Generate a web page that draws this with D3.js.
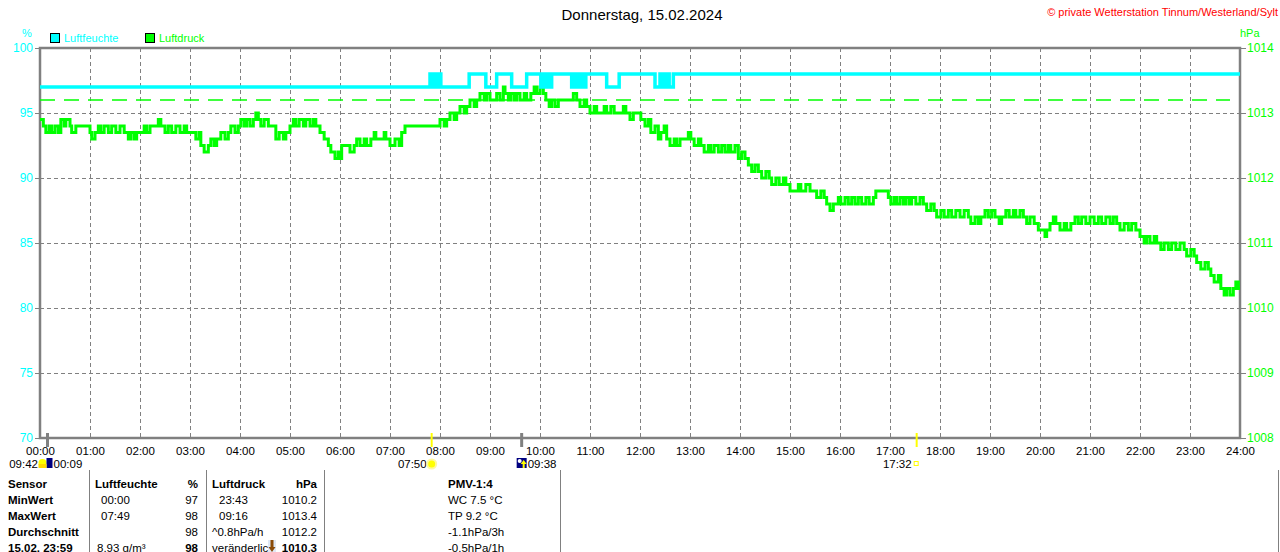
<!DOCTYPE html>
<html>
<head>
<meta charset="utf-8">
<script src="https://cdn.jsdelivr.net/npm/d3@7"></script>
<style>
  body { margin: 0; background: #fff; }
  svg { display: block; font-family: "Liberation Sans", Arial, sans-serif; }
</style>
</head>
<body>
<script>
// Tagesgrafik Luftfeuchte / Luftdruck

var titel = "Donnerstag, 15.02.2024",
    copyright = "\u00A9 private Wetterstation Tinnum/Westerland/Sylt";

var feuchteTicks = [70, 75, 80, 85, 90, 95, 100],
    druckTicks = [1008, 1009, 1010, 1011, 1012, 1013, 1014],
    stundenTicks = d3.range(0, 25);

// [Minute des Tages, %]
var feuchte = [
  [0, 97], [468, 98], [470, 97], [473, 98], [475, 97], [478, 98], [481, 97],
  [515, 98], [535, 97], [548, 98], [566, 97], [584, 98],
  [601, 97], [604, 98], [606, 97], [610, 98], [612, 97], [614, 98],
  [638, 97], [642, 98], [644, 97], [648, 98], [652, 97], [655, 98],
  [680, 97], [695, 98], [738, 97], [744, 98], [748, 97], [751, 98],
  [755, 97], [760, 98], [1440, 98]
];

// [Minute des Tages, hPa]
var druck = [
  [0,1012.9],[4,1012.8],[7,1012.7],[11,1012.8],[14,1012.7],[18,1012.8],[22,1012.7],[25,1012.9],
  [29,1012.8],[31,1012.9],[36,1012.8],[38,1012.7],[43,1012.8],[60,1012.7],[62,1012.6],[66,1012.7],
  [70,1012.8],[73,1012.7],[77,1012.8],[82,1012.7],[86,1012.8],[91,1012.7],[96,1012.8],[101,1012.7],
  [106,1012.6],[109,1012.7],[113,1012.6],[116,1012.7],[125,1012.8],[128,1012.7],[132,1012.8],[142,1012.9],
  [145,1012.8],[150,1012.7],[154,1012.8],[158,1012.7],[163,1012.8],[168,1012.7],[173,1012.8],[176,1012.7],
  [187,1012.6],[191,1012.7],[193,1012.5],[197,1012.4],[202,1012.5],[205,1012.6],[209,1012.5],[212,1012.6],
  [217,1012.7],[222,1012.6],[226,1012.7],[229,1012.8],[234,1012.7],[238,1012.8],[241,1012.9],[245,1012.8],
  [248,1012.9],[252,1012.8],[256,1012.9],[259,1013.0],[262,1012.9],[265,1012.8],[269,1012.9],[274,1012.8],
  [283,1012.6],[287,1012.7],[292,1012.6],[295,1012.7],[300,1012.8],[304,1012.9],[307,1012.8],[311,1012.9],
  [316,1012.8],[319,1012.9],[324,1012.8],[328,1012.9],[331,1012.8],[336,1012.7],[341,1012.6],[346,1012.5],
  [349,1012.4],[354,1012.3],[358,1012.4],[360,1012.3],[362,1012.5],[372,1012.4],[377,1012.5],[380,1012.6],
  [384,1012.5],[389,1012.6],[392,1012.5],[397,1012.6],[401,1012.7],[403,1012.6],[413,1012.7],[415,1012.6],
  [420,1012.5],[426,1012.6],[431,1012.5],[434,1012.7],[438,1012.8],[480,1012.9],[485,1012.8],[488,1012.9],
  [492,1013.0],[497,1012.9],[500,1013.0],[504,1013.1],[509,1013.0],[512,1013.1],[516,1013.2],[521,1013.1],
  [524,1013.2],[528,1013.3],[533,1013.2],[536,1013.3],[540,1013.2],[548,1013.3],[552,1013.2],[556,1013.4],
  [558,1013.3],[562,1013.2],[565,1013.3],[569,1013.2],[572,1013.3],[576,1013.2],[581,1013.3],[584,1013.2],
  [589,1013.3],[593,1013.4],[596,1013.3],[600,1013.4],[604,1013.3],[607,1013.2],[611,1013.1],[614,1013.2],
  [618,1013.1],[622,1013.2],[640,1013.3],[644,1013.2],[648,1013.1],[653,1013.2],[656,1013.1],[660,1013.0],
  [665,1013.1],[668,1013.0],[677,1013.1],[680,1013.0],[685,1013.1],[689,1013.0],[700,1013.1],[703,1013.0],
  [708,1012.9],[712,1013.0],[721,1012.9],[726,1012.8],[730,1012.9],[733,1012.7],[738,1012.8],[742,1012.6],
  [745,1012.7],[749,1012.8],[752,1012.6],[756,1012.5],[761,1012.6],[764,1012.5],[768,1012.6],[778,1012.7],
  [781,1012.6],[785,1012.5],[790,1012.6],[793,1012.5],[797,1012.4],[802,1012.5],[805,1012.4],[809,1012.5],
  [814,1012.4],[818,1012.5],[822,1012.4],[826,1012.5],[829,1012.4],[834,1012.5],[838,1012.3],[842,1012.4],
  [846,1012.3],[850,1012.2],[854,1012.1],[858,1012.2],[862,1012.1],[866,1012.0],[871,1012.1],[875,1012.0],
  [878,1011.9],[883,1012.0],[887,1011.9],[892,1012.0],[895,1011.9],[900,1011.8],[910,1011.9],[913,1011.8],
  [919,1011.9],[924,1011.8],[932,1011.7],[937,1011.8],[941,1011.7],[944,1011.6],[948,1011.5],[952,1011.6],
  [958,1011.7],[961,1011.6],[966,1011.7],[970,1011.6],[974,1011.7],[978,1011.6],[982,1011.7],[986,1011.6],
  [991,1011.7],[995,1011.6],[1000,1011.7],[1003,1011.8],[1018,1011.7],[1021,1011.6],[1025,1011.7],[1028,1011.6],
  [1032,1011.7],[1036,1011.6],[1039,1011.7],[1043,1011.6],[1046,1011.7],[1051,1011.6],[1056,1011.7],[1060,1011.6],
  [1064,1011.5],[1069,1011.6],[1073,1011.5],[1076,1011.4],[1081,1011.5],[1085,1011.4],[1090,1011.5],[1094,1011.4],
  [1099,1011.5],[1104,1011.4],[1109,1011.5],[1114,1011.4],[1117,1011.3],[1122,1011.4],[1126,1011.3],[1129,1011.4],
  [1134,1011.5],[1138,1011.4],[1142,1011.5],[1146,1011.4],[1151,1011.3],[1154,1011.4],[1159,1011.5],[1163,1011.4],
  [1168,1011.5],[1171,1011.4],[1176,1011.5],[1180,1011.4],[1184,1011.3],[1188,1011.4],[1193,1011.3],[1198,1011.2],
  [1206,1011.1],[1208,1011.2],[1212,1011.3],[1216,1011.4],[1219,1011.3],[1224,1011.2],[1229,1011.3],[1232,1011.2],
  [1237,1011.3],[1242,1011.4],[1246,1011.3],[1250,1011.4],[1255,1011.3],[1260,1011.4],[1265,1011.3],[1270,1011.4],
  [1274,1011.3],[1279,1011.4],[1284,1011.3],[1288,1011.4],[1292,1011.3],[1296,1011.2],[1301,1011.3],[1306,1011.2],
  [1310,1011.3],[1315,1011.2],[1320,1011.1],[1325,1011.0],[1328,1011.1],[1332,1011.0],[1337,1011.1],[1340,1011.0],
  [1345,1010.9],[1349,1011.0],[1354,1010.9],[1358,1011.0],[1363,1010.9],[1368,1011.0],[1373,1010.9],[1376,1010.8],
  [1381,1010.9],[1385,1010.8],[1388,1010.7],[1393,1010.6],[1398,1010.7],[1402,1010.6],[1405,1010.5],[1409,1010.4],
  [1414,1010.5],[1417,1010.3],[1421,1010.2],[1424,1010.3],[1428,1010.2],[1432,1010.3],[1435,1010.4],[1438,1010.3],
  [1440,1010.3]
];

// gestrichelte Linie (hPa), von 00:00 bis 23:48
var druckLinie = { wert: 1013.2, von: 0, bis: 1428 };

// Sonne / Mond
var ereignisse = [
  { zeit: 9,    text: "00:09", typ: "mond",  seite: "rechts" },
  { zeit: 470,  text: "07:50", typ: "sonne", seite: "links" },
  { zeit: 578,  text: "09:38", typ: "mond",  seite: "rechts" },
  { zeit: 1052, text: "17:32", typ: "sonne", seite: "links" }
];
var mondZusatz = "09:42";

// Tabelle unten
var zeilen = ["Sensor", "MinWert", "MaxWert", "Durchschnitt", "15.02.  23:59"],
    feuchteZeit = ["Luftfeuchte", "00:00", "07:49", "", "8.93 g/m\u00B3"],
    feuchteWert = ["%", "97", "98", "98", "98"],
    druckZeit = ["Luftdruck", "23:43", "09:16", "^0.8hPa/h", "ver\u00E4nderlich"],
    druckWert = ["hPa", "1010.2", "1013.4", "1012.2", "1010.3"],
    pmv = ["PMV-1:4", "WC 7.5 \u00B0C", "TP 9.2 \u00B0C", "-1.1hPa/3h", "-0.5hPa/1h"];

var W = 1280, H = 552,
    pL = 40, pR = 1240, pT = 48, pB = 438;

var cyan = "#00ffff", green = "#00ff00", grau = "#808080";

var svg = d3.select("body").append("svg")
  .attr("width", W)
  .attr("height", H);

var x = d3.scaleLinear().domain([0, 1440]).range([pL, pR]),
    yF = d3.scaleLinear().domain([70, 100]).range([pB, pT]),
    yD = d3.scaleLinear().domain([1008, 1014]).range([pB, pT]);

// Titel
svg.append("text").attr("x", 642).attr("y", 20).attr("text-anchor", "middle")
  .style("font-size", "15px").attr("fill", "#000").text(titel);
svg.append("text").attr("x", 1278).attr("y", 16).attr("text-anchor", "end")
  .style("font-size", "11px").attr("fill", "#ff0000").text(copyright);

// Einheiten
svg.append("text").attr("x", 27).attr("y", 37).attr("text-anchor", "middle")
  .style("font-size", "11px").attr("fill", cyan).text("%");
svg.append("text").attr("x", 1240).attr("y", 37)
  .style("font-size", "11px").attr("fill", green).text("hPa");

// Legende
var legende = [{ name: "Luftfeuchte", farbe: cyan, x: 50 }, { name: "Luftdruck", farbe: green, x: 145 }];
var lg = svg.selectAll("g.legende").data(legende).enter().append("g").attr("class", "legende");
lg.append("rect").attr("x", function(d){ return d.x + 0.5; }).attr("y", 33.5)
  .attr("width", 9).attr("height", 9).attr("fill", function(d){ return d.farbe; })
  .attr("stroke", "#000").attr("stroke-width", 1);
lg.append("text").attr("x", function(d){ return d.x + 14; }).attr("y", 42)
  .style("font-size", "11px").attr("fill", function(d){ return d.farbe; })
  .text(function(d){ return d.name; });

// Gitter
svg.append("g").selectAll("line").data(stundenTicks.slice(1, 24)).enter().append("line")
  .attr("x1", function(d){ return x(d * 60) + 0.5; }).attr("x2", function(d){ return x(d * 60) + 0.5; })
  .attr("y1", pT).attr("y2", pB)
  .attr("stroke", grau).attr("stroke-dasharray", "4,3");
svg.append("g").selectAll("line").data(feuchteTicks.slice(1, 6)).enter().append("line")
  .attr("x1", pL).attr("x2", pR)
  .attr("y1", function(d){ return yF(d) + 0.5; }).attr("y2", function(d){ return yF(d) + 0.5; })
  .attr("stroke", grau).attr("stroke-dasharray", "4,3");

// Achsen
var achseL = svg.append("g").attr("transform", "translate(" + pL + ",0)")
  .call(d3.axisLeft(yF).tickValues(feuchteTicks).tickSize(5).tickPadding(2));
var achseR = svg.append("g").attr("transform", "translate(" + pR + ",0)")
  .call(d3.axisRight(yD).tickValues(druckTicks).tickSize(6).tickPadding(1)
    .tickFormat(d3.format("d")));
[[achseL, cyan], [achseR, green]].forEach(function(a){
  a[0].select(".domain").remove();
  a[0].selectAll(".tick line").attr("stroke", grau);
  a[0].selectAll("text").attr("fill", a[1]).style("font-size", "12px")
    .style("font-family", "'Liberation Sans', Arial, sans-serif");
});
var achseX = svg.append("g").attr("transform", "translate(0," + pB + ")")
  .call(d3.axisBottom(x).tickValues(stundenTicks.map(function(h){ return h * 60; }))
    .tickSize(0).tickPadding(9)
    .tickFormat(function(m){ return d3.format("02")(m / 60) + ":00"; }));
achseX.select(".domain").remove();
achseX.selectAll("text").attr("fill", "#000").style("font-size", "11.5px")
  .style("font-family", "'Liberation Sans', Arial, sans-serif");

// Rahmen
svg.append("rect").attr("x", pL).attr("y", pT).attr("width", pR - pL).attr("height", pB - pT)
  .attr("fill", "none").attr("stroke", grau).attr("stroke-width", 2.5);

// gestrichelte Druck-Linie
svg.append("line")
  .attr("x1", x(druckLinie.von)).attr("x2", x(druckLinie.bis))
  .attr("y1", yD(druckLinie.wert)).attr("y2", yD(druckLinie.wert))
  .attr("stroke", green).attr("stroke-width", 1.5).attr("stroke-dasharray", "15,9");

// Kurven
var linieF = d3.line().x(function(d){ return x(d[0]); }).y(function(d){ return yF(d[1]); })
  .curve(d3.curveStepAfter);
var linieD = d3.line().x(function(d){ return x(d[0]); }).y(function(d){ return yD(d[1]); })
  .curve(d3.curveStepAfter);

svg.append("path").datum(druck).attr("d", linieD)
  .attr("fill", "none").attr("stroke", green).attr("stroke-width", 3);
svg.append("path").datum(feuchte).attr("d", linieF)
  .attr("fill", "none").attr("stroke", cyan).attr("stroke-width", 3.5);

// Sonne / Mond Markierungen
var ev = svg.append("g").selectAll("g").data(ereignisse).enter().append("g");
ev.append("line")
  .attr("x1", function(d){ return x(d.zeit); }).attr("x2", function(d){ return x(d.zeit); })
  .attr("y1", 433).attr("y2", 447)
  .attr("stroke", function(d){ return d.typ == "sonne" ? "#ffff00" : grau; })
  .attr("stroke-width", function(d){ return d.typ == "sonne" ? 2 : 3; });
ev.append("text")
  .attr("x", function(d){ return d.seite == "links" ? x(d.zeit) - 5 : x(d.zeit) + 6; })
  .attr("y", 468)
  .attr("text-anchor", function(d){ return d.seite == "links" ? "end" : "start"; })
  .style("font-size", "11.5px").attr("fill", "#000")
  .text(function(d){ return d.text; });

// Symbole
ereignisse.forEach(function(d, i){
  var cx = x(d.zeit), g = svg.append("g");
  if (i == 0) {
    g.append("circle").attr("cx", cx - 5).attr("cy", 463).attr("r", 4).attr("fill", "#ffff00");
    g.append("rect").attr("x", cx - 1).attr("y", 458).attr("width", 6).attr("height", 10).attr("fill", "#000080");
    g.append("rect").attr("x", cx - 9).attr("y", 464).attr("width", 8).attr("height", 4).attr("fill", "#ffd800");
  } else if (i == 1) {
    g.append("circle").attr("cx", cx).attr("cy", 464).attr("r", 5.5).attr("fill", "#fff8a0");
    g.append("circle").attr("cx", cx).attr("cy", 464).attr("r", 3.5).attr("fill", "#ffff00");
  } else if (i == 2) {
    g.append("rect").attr("x", cx - 5).attr("y", 458).attr("width", 10).attr("height", 10).attr("fill", "#000080");
    g.append("circle").attr("cx", cx - 2).attr("cy", 461).attr("r", 2).attr("fill", "#fff");
    g.append("path").attr("d", "M" + (cx + 2) + ",460 l-3,4 h2 v4 h2 v-4 h2 z").attr("fill", "#ffff00");
  } else {
    g.append("rect").attr("x", cx - 2.5).attr("y", 461.5).attr("width", 4).attr("height", 4)
      .attr("fill", "none").attr("stroke", "#ffff00");
  }
});
svg.append("text").attr("x", 38).attr("y", 468).attr("text-anchor", "end")
  .style("font-size", "11.5px").attr("fill", "#000").text(mondZusatz);

// Tabelle
[89, 206, 324, 560, 1278].forEach(function(sx){
  svg.append("line").attr("x1", sx + 0.5).attr("x2", sx + 0.5).attr("y1", 470).attr("y2", H)
    .attr("stroke", grau);
});
svg.append("clipPath").attr("id", "clipVer").append("rect")
  .attr("x", 206).attr("y", 470).attr("width", 62).attr("height", 90);

var zeileY = function(i){ return 488 + i * 16; };
var spalten = [
  { werte: zeilen, x: 8, anchor: "start", fett: function(i){ return true; } },
  { werte: feuchteZeit, x: 101, anchor: "start", fett: function(i){ return i == 0; } },
  { werte: feuchteWert, x: 198, anchor: "end", fett: function(i){ return i == 0 || i == 4; } },
  { werte: druckZeit, x: 219, anchor: "start", fett: function(i){ return i == 0; } },
  { werte: druckWert, x: 317, anchor: "end", fett: function(i){ return i == 0 || i == 4; } },
  { werte: pmv, x: 448, anchor: "start", fett: function(i){ return i == 0; } }
];
spalten.forEach(function(sp, si){
  svg.append("g").selectAll("text").data(sp.werte).enter().append("text")
    .attr("x", function(d, i){
      if (si == 1 && (i == 0 || i == 4)) return i == 0 ? 95 : 97;
      if (si == 3 && (i == 0 || i >= 3)) return 212;
      return sp.x;
    })
    .attr("y", function(d, i){ return zeileY(i); })
    .attr("text-anchor", sp.anchor)
    .attr("clip-path", function(d, i){ return si == 3 && i == 4 ? "url(#clipVer)" : null; })
    .style("font-size", "11.5px")
    .style("font-weight", function(d, i){ return sp.fett(i) ? "bold" : "normal"; })
    .attr("fill", "#000")
    .text(function(d){ return d; });
});
// Tendenzpfeil
svg.append("rect").attr("x", 268).attr("y", 540).attr("width", 8).attr("height", 12).attr("fill", "#dfe8f5");
svg.append("path").attr("d", "M270.5,540 h3 v7 h2 l-3.5,5 l-3.5,-5 h2 z").attr("fill", "#8a4b08");
</script>
</body>
</html>
